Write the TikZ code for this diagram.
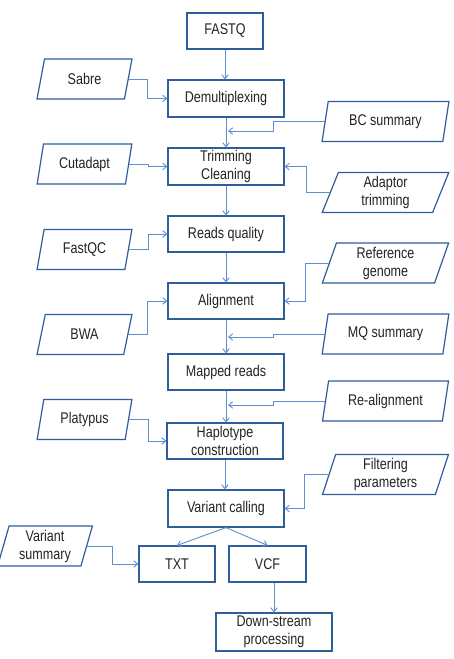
\documentclass[tikz,border=0pt]{standalone}
\usepackage{fontspec}
\setmainfont{Liberation Sans}[FakeStretch=0.81]
\usetikzlibrary{shapes.geometric,arrows.meta}
\definecolor{boxcol}{RGB}{47,94,155}
\definecolor{linecol}{RGB}{91,143,210}
\definecolor{txtcol}{RGB}{35,35,35}
\tikzset{
  stepbox/.style={draw=boxcol,line width=1.2pt,rectangle,minimum width=116pt,minimum height=37pt,inner sep=1pt,align=center,text=txtcol,font=\fontsize{15.5}{18}\selectfont},
  iobox/.style={draw=boxcol,line width=1.2pt,trapezium,trapezium left angle=76,trapezium right angle=104,trapezium stretches=true,minimum height=40pt,inner sep=1pt,align=center,text=txtcol,font=\fontsize{15.5}{18}\selectfont},
  conn/.style={draw=linecol,line width=0.9pt,-{Straight Barb[length=4pt,width=6.5pt,line width=0.9pt]}},
}
\begin{document}
\begin{tikzpicture}[x=1pt,y=-1pt]
\fill[white] (0,0) rectangle (453,659);
\useasboundingbox (0,0) rectangle (453,659);
% main column
\node[stepbox,minimum width=76pt,minimum height=36pt] (fastq) at (225,31) {FASTQ};
\node[stepbox] (demux) at (226,98.5) {Demultiplexing};
\node[stepbox] (trim) at (226,166.5) {Trimming\\Cleaning};
\node[stepbox,minimum height=36pt] (rq) at (226,234) {Reads quality};
\node[stepbox,minimum height=36pt] (align) at (226,301) {Alignment};
\node[stepbox,minimum height=36pt] (mapped) at (226,372) {Mapped reads};
\node[stepbox,minimum height=36pt] (hap) at (225,441) {Haplotype\\construction};
\node[stepbox] (vc) at (226,508.5) {Variant calling};
\node[stepbox,minimum width=76pt,minimum height=36pt] (txt) at (177,564) {TXT};
\node[stepbox,minimum width=77pt,minimum height=36pt] (vcf) at (267.5,564) {VCF};
\node[stepbox,minimum height=38pt] (down) at (274,632) {Down-stream\\processing};
% left inputs
\node[iobox,minimum width=95pt] (sabre) at (84.5,79) {Sabre};
\node[iobox,minimum width=95pt] (cutadapt) at (84.5,164) {Cutadapt};
\node[iobox,minimum width=95pt] (fastqc) at (84.5,249.5) {FastQC};
\node[iobox,minimum width=95pt] (bwa) at (84.5,334.5) {BWA};
\node[iobox,minimum width=95pt] (platypus) at (84.5,419.5) {Platypus};
\node[iobox,minimum width=95pt] (varsum) at (45,546) {Variant\\summary};
% right inputs
\node[iobox,minimum width=127pt] (bcsum) at (385.5,121.5) {BC summary};
\node[iobox,minimum width=127pt] (adaptor) at (385.5,192.5) {Adaptor\\trimming};
\node[iobox,minimum width=127pt] (refgen) at (385.5,263) {Reference\\genome};
\node[iobox,minimum width=127pt] (mqsum) at (385.5,334) {MQ summary};
\node[iobox,minimum width=127pt] (realign) at (385.5,401) {Re-alignment};
\node[iobox,minimum width=127pt] (filter) at (385.5,474.5) {Filtering\\parameters};
% join points on the main line
\coordinate (j1) at (228,131);
\coordinate (j2) at (228,337);
\coordinate (j3) at (228,405);
% main flow
\draw[conn] (fastq.south) -- (fastq.south |- demux.north);
\draw[conn] (demux.south) -- (trim.north);
\draw[conn] (trim.south) -- (rq.north);
\draw[conn] (rq.south) -- (align.north);
\draw[conn] (align.south) -- (mapped.north);
\draw[conn] (mapped.south) -- (mapped.south |- hap.north);
\draw[conn] (hap.south) -- (hap.south |- vc.north);
\draw[conn] (vc.south) -- (txt.north);
\draw[conn] (vc.south) -- (vcf.north);
\draw[conn] (down.north |- vcf.south) -- (down.north);
% left inputs
\draw[conn] (sabre.east) -- ++(19,0) |- (demux.west);
\draw[conn] (cutadapt.east) -- ++(19,0) |- (trim.west);
\draw[conn] (fastqc.east) -- ++(19,0) |- (rq.west);
\draw[conn] (bwa.east) -- ++(19,0) |- (align.west);
\draw[conn] (platypus.east) -- ++(19,0) |- (hap.west);
\draw[conn] (varsum.east) -- ++(25.5,0) |- (txt.west);
% right inputs
\draw[conn] (bcsum.west) -- ++(-51.5,0) |- (j1);
\draw[conn] (adaptor.west) -- ++(-23.5,0) |- (trim.east);
\draw[conn] (refgen.west) -- ++(-23.5,0) |- (align.east);
\draw[conn] (mqsum.west) -- ++(-51.5,0) |- (j2);
\draw[conn] (realign.west) -- ++(-51.5,0) |- (j3);
\draw[conn] (filter.west) -- ++(-23.5,0) |- (vc.east);
\end{tikzpicture}
\end{document}
